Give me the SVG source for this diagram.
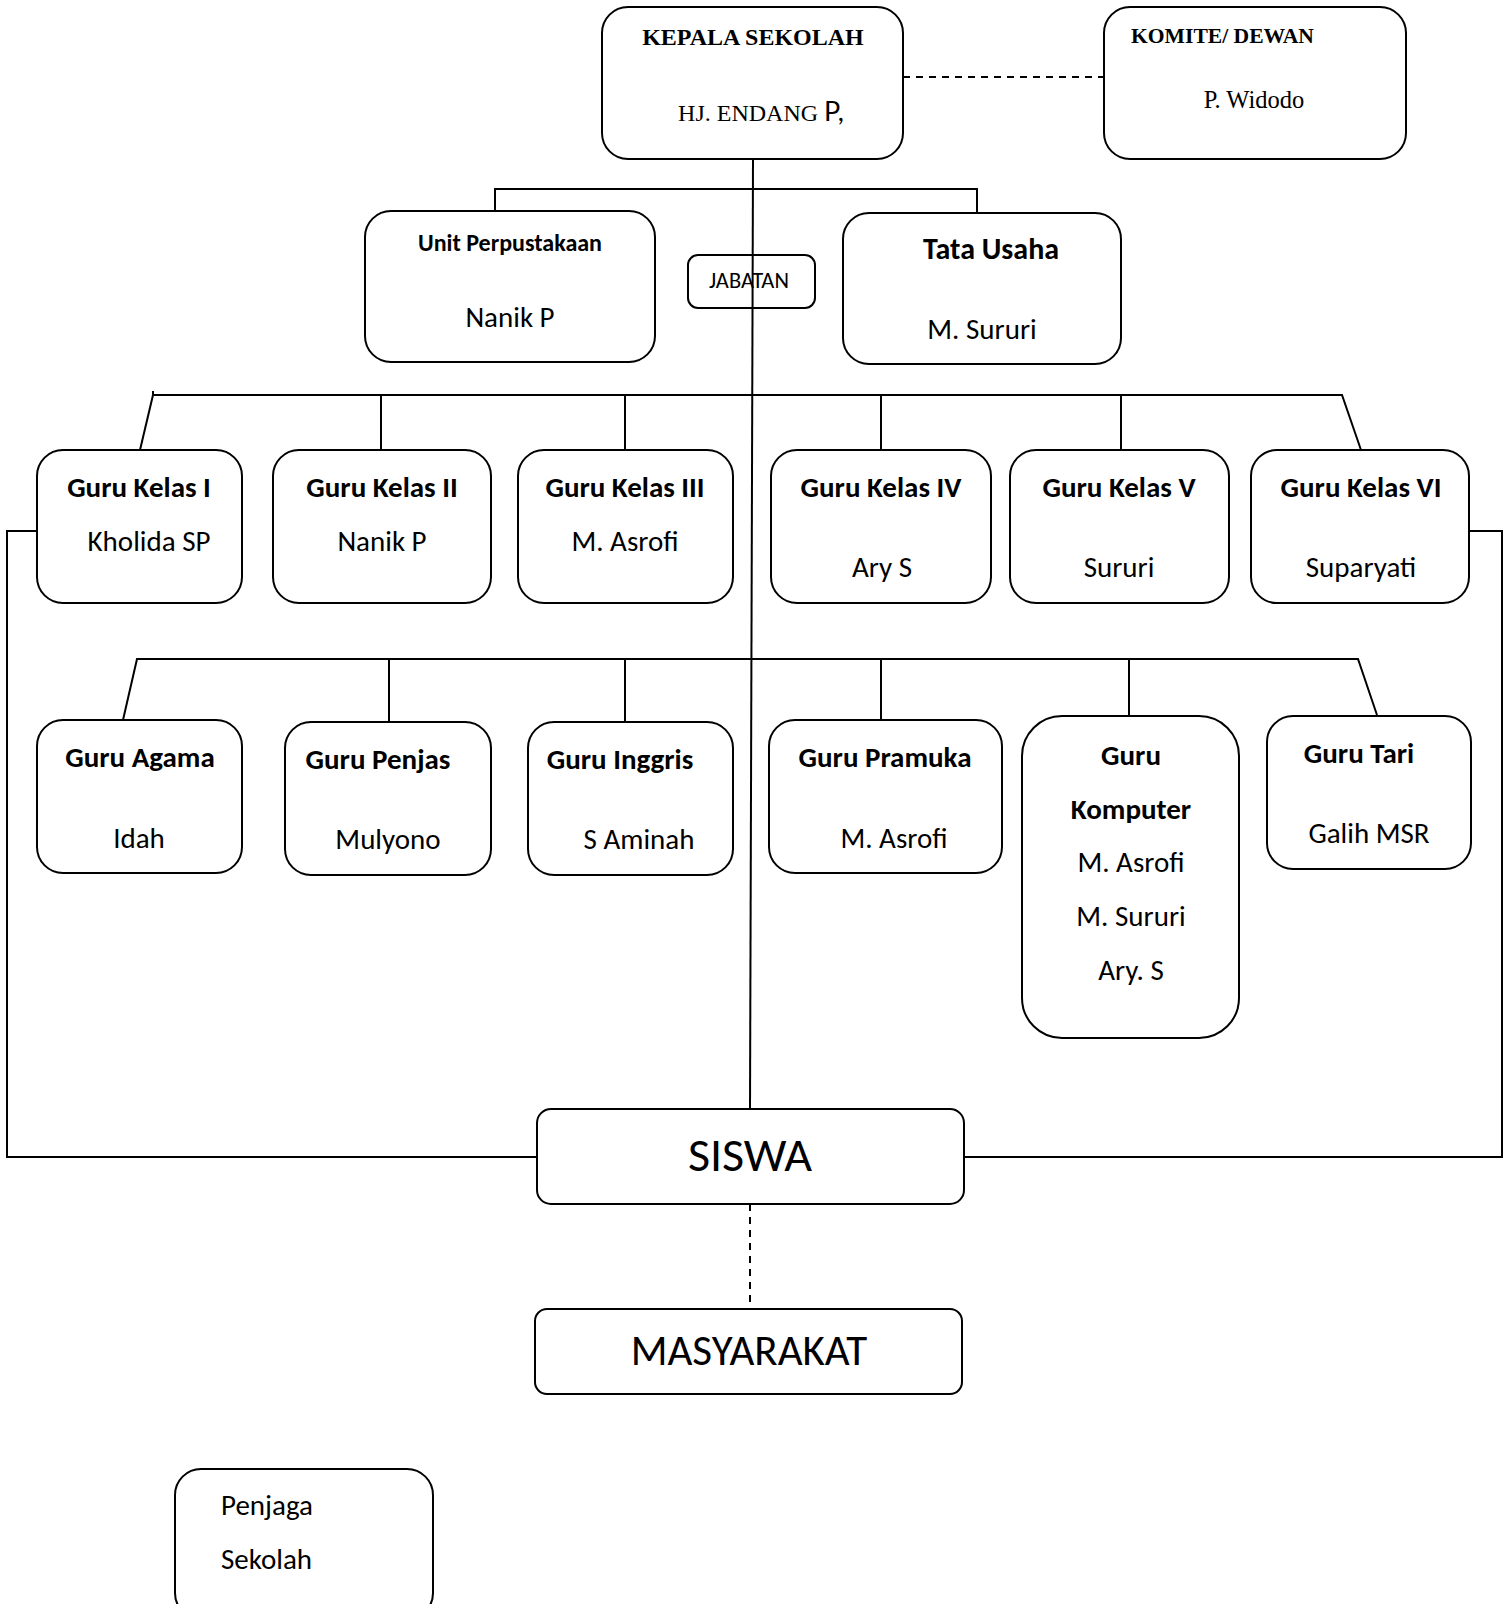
<svg xmlns="http://www.w3.org/2000/svg" width="1508" height="1604" viewBox="0 0 1508 1604">
<style>
.box{fill:#fff;stroke:#000;stroke-width:2}
.open{fill:none}
.ln{fill:none;stroke:#000;stroke-width:2}
.dash{fill:none;stroke:#000;stroke-width:2;stroke-dasharray:7 6}
.t{font-family:Carlito,Lato,"Open Sans",sans-serif;font-size:29px;fill:#000;text-anchor:middle}
.b{font-weight:bold}
.l{text-anchor:start}
.s{font-family:"Liberation Serif","Times New Roman",serif;fill:#000}
</style>
<rect width="1508" height="1604" fill="#fff"/>
<g id="jabatan">
<rect class="box" x="688" y="255" width="127" height="53" rx="10"/>
<text class="t" x="749" y="288" style="font-size:22.5px">JABATAN</text>
</g>
<g id="connectors">
<line class="dash" x1="903" y1="77" x2="1104" y2="77"/>
<line class="ln" x1="753" y1="159" x2="750" y2="1109"/>
<polyline class="ln" points="495,211 495,189 977,189 977,213"/>
<polyline class="ln" points="153,391 153,395 1342,395 1361,450"/>
<line class="ln" x1="153" y1="395" x2="140" y2="450"/>
<line class="ln" x1="381" y1="395" x2="381" y2="450"/>
<line class="ln" x1="625" y1="395" x2="625" y2="450"/>
<line class="ln" x1="881" y1="395" x2="881" y2="450"/>
<line class="ln" x1="1121" y1="395" x2="1121" y2="450"/>
<polyline class="ln" points="123,720 137,659 1358,659 1377,715"/>
<line class="ln" x1="389" y1="659" x2="389" y2="722"/>
<line class="ln" x1="625" y1="659" x2="625" y2="722"/>
<line class="ln" x1="881" y1="659" x2="881" y2="720"/>
<line class="ln" x1="1129" y1="659" x2="1129" y2="716"/>
<polyline class="ln" points="37,531 7,531 7,1157 537,1157"/>
<polyline class="ln" points="1469,531 1502,531 1502,1157 964,1157"/>
<line class="dash" x1="750" y1="1204" x2="750" y2="1309"/>
</g>
<g id="kepala">
<rect class="box" x="602" y="7" width="301" height="152" rx="26"/>
<text class="s" x="753" y="45" style="font-size:24px;font-weight:bold;text-anchor:middle">KEPALA SEKOLAH</text>
<text class="s" x="761" y="121" style="font-size:24px;text-anchor:middle">HJ. ENDANG <tspan style="font-family:Lato,sans-serif;font-size:27px">P,</tspan></text>
</g>
<g id="komite">
<rect class="box" x="1104" y="7" width="302" height="152" rx="26"/>
<text class="s" x="1131" y="43" style="font-size:21.6px;font-weight:bold">KOMITE/ DEWAN</text>
<text class="s" x="1254" y="108" style="font-size:24.5px;text-anchor:middle">P. Widodo</text>
</g>
<g id="unit-perpustakaan">
<rect class="box" x="365" y="211" width="290" height="151" rx="26"/>
<text class="t b" x="510" y="251" style="font-size:24px">Unit Perpustakaan</text>
<text class="t" x="510" y="327">Nanik P</text>
</g>
<g id="tata-usaha">
<rect class="box" x="843" y="213" width="278" height="151" rx="26"/>
<text class="t b" x="991" y="259" style="font-size:30px">Tata Usaha</text>
<text class="t" x="982" y="339">M. Sururi</text>
</g>
<g id="guru-kelas-1">
<rect class="box" x="37" y="450" width="205" height="153" rx="26"/>
<text class="t b" x="139" y="497">Guru Kelas I</text>
<text class="t" x="149" y="551">Kholida SP</text>
</g>
<g id="guru-kelas-2">
<rect class="box" x="273" y="450" width="218" height="153" rx="26"/>
<text class="t b" x="382" y="497">Guru Kelas II</text>
<text class="t" x="382" y="551">Nanik P</text>
</g>
<g id="guru-kelas-3">
<rect class="box" x="518" y="450" width="215" height="153" rx="26"/>
<text class="t b" x="625" y="497">Guru Kelas III</text>
<text class="t" x="625" y="551">M. Asrofi</text>
</g>
<g id="guru-kelas-4">
<rect class="box" x="771" y="450" width="220" height="153" rx="26"/>
<text class="t b" x="881" y="497">Guru Kelas IV</text>
<text class="t" x="882" y="577">Ary S</text>
</g>
<g id="guru-kelas-5">
<rect class="box" x="1010" y="450" width="219" height="153" rx="26"/>
<text class="t b" x="1119" y="497">Guru Kelas V</text>
<text class="t" x="1119" y="577">Sururi</text>
</g>
<g id="guru-kelas-6">
<rect class="box" x="1251" y="450" width="218" height="153" rx="26"/>
<text class="t b" x="1361" y="497">Guru Kelas VI</text>
<text class="t" x="1361" y="577">Suparyati</text>
</g>
<g id="guru-agama">
<rect class="box" x="37" y="720" width="205" height="153" rx="26"/>
<text class="t b" x="140" y="767">Guru Agama</text>
<text class="t" x="139" y="848">Idah</text>
</g>
<g id="guru-penjas">
<rect class="box" x="285" y="722" width="206" height="153" rx="26"/>
<text class="t b" x="378" y="769">Guru Penjas</text>
<text class="t" x="388" y="849">Mulyono</text>
</g>
<g id="guru-inggris">
<rect class="box" x="528" y="722" width="205" height="153" rx="26"/>
<text class="t b" x="620" y="769">Guru Inggris</text>
<text class="t" x="639" y="849">S Aminah</text>
</g>
<g id="guru-pramuka">
<rect class="box" x="769" y="720" width="233" height="153" rx="26"/>
<text class="t b" x="885" y="767">Guru Pramuka</text>
<text class="t" x="894" y="848">M. Asrofi</text>
</g>
<g id="guru-komputer">
<rect class="box" x="1022" y="716" width="217" height="322" rx="40"/>
<text class="t b" x="1131" y="765">Guru</text>
<text class="t b" x="1131" y="819">Komputer</text>
<text class="t" x="1131" y="872">M. Asrofi</text>
<text class="t" x="1131" y="926">M. Sururi</text>
<text class="t" x="1131" y="980">Ary. S</text>
</g>
<g id="guru-tari">
<rect class="box" x="1267" y="716" width="204" height="153" rx="26"/>
<text class="t b" x="1359" y="763">Guru Tari</text>
<text class="t" x="1369" y="843">Galih MSR</text>
</g>
<g id="siswa">
<rect class="box" x="537" y="1109" width="427" height="95" rx="14"/>
<text class="t" x="750" y="1171" style="font-size:48px">SISWA</text>
</g>
<g id="masyarakat">
<rect class="box" x="535" y="1309" width="427" height="85" rx="12"/>
<text class="t" x="749" y="1365" style="font-size:43px">MASYARAKAT</text>
</g>
<g id="penjaga-sekolah">
<rect class="box" x="175" y="1469" width="258" height="150" rx="26"/>
<text class="t l" x="221" y="1515">Penjaga</text>
<text class="t l" x="221" y="1569">Sekolah</text>
</g>
</svg>
